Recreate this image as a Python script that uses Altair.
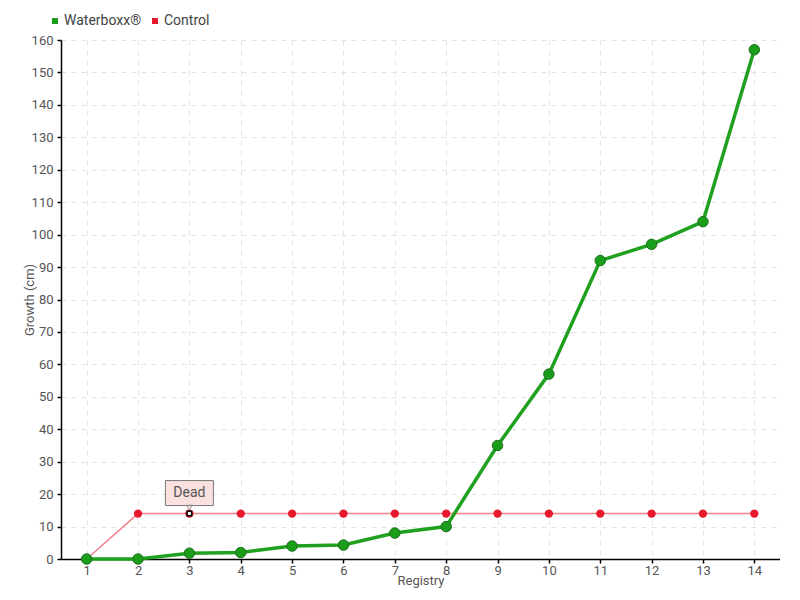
import altair as alt
import pandas as pd

registry = list(range(1, 15))
waterboxx = [0, 0, 1.8, 2, 4, 4.3, 8, 10, 35, 57, 92, 97, 104, 157]
control = [0, 14, 14, 14, 14, 14, 14, 14, 14, 14, 14, 14, 14, 14]
series_names = ["Waterboxx®", "Control"]
annot_x = [3]
annot_y = [14]
annot_text = ["Dead"]

rows = []
for r, w, c in zip(registry, waterboxx, control):
    rows.append({"Registry": r, "Growth": w, "Series": series_names[0]})
    rows.append({"Registry": r, "Growth": c, "Series": series_names[1]})
df = pd.DataFrame(rows)
wdf = df[df.Series == series_names[0]]
cdf = df[df.Series == series_names[1]]
adf = pd.DataFrame({"Registry": annot_x, "Growth": annot_y, "label": annot_text})

FONT = "Roboto, sans-serif"

x = alt.X("Registry:O", scale=alt.Scale(type="point", padding=0.5),
          axis=alt.Axis(title="Registry", labelAngle=0, titlePadding=-3, grid=True,
                        domain=True, ticks=True, labelPadding=1))
y = alt.Y("Growth:Q", scale=alt.Scale(domain=[0, 160], nice=False),
          axis=alt.Axis(title="Growth (cm)", values=list(range(0, 161, 10)),
                        titleX=-25, labelOverlap=False, domain=True, ticks=True, grid=True))

color_scale = alt.Scale(domain=series_names, range=["#1a9e1a", "#e8192c"])

ctrl_line = alt.Chart(cdf).mark_line(color="#f4828c", strokeWidth=1.5).encode(x=x, y=y)
ctrl_pts = alt.Chart(cdf).mark_circle(size=70, opacity=1).encode(
    x=x, y=y, color=alt.Color("Series:N", scale=color_scale,
                              legend=alt.Legend(title=None, orient="none", direction="horizontal",
                                                legendX=-13, legendY=-26, symbolType="square",
                                                symbolSize=36, labelFontSize=14, labelFont=FONT,
                                                labelColor="#444", columnPadding=6, labelOffset=2)))
w_line = alt.Chart(wdf).mark_line(color="#1fa01f", strokeWidth=3.5).encode(x=x, y=y)
w_pts = alt.Chart(wdf).mark_circle(size=110, opacity=1, stroke="#1e6e1e", strokeWidth=1).encode(
    x=x, y=y, color=alt.Color("Series:N", scale=color_scale))

box = alt.Chart(adf).mark_rect(fill="#fbe0e0", stroke="#777", strokeWidth=1,
                               xOffset=-24, x2Offset=24, yOffset=-33, y2Offset=-8).encode(
    x=x, x2="Registry:O", y=y, y2="Growth:Q")
ptr = alt.Chart(adf).mark_point(shape="triangle-down", filled=True, fill="#fbe0e0", stroke="#777",
                                strokeWidth=1, size=30, yOffset=-6).encode(x=x, y=y)
txt = alt.Chart(adf).mark_text(font=FONT, fontSize=14, color="#555", dy=-21).encode(
    x=x, y=y, text="label:N")
marker = alt.Chart(adf).mark_square(size=20, fill="white", stroke="black", strokeWidth=1.5,
                                    opacity=1).encode(x=x, y=y)

chart = alt.layer(ctrl_line, w_line, ctrl_pts, w_pts, box, ptr, txt, marker).properties(
    width=719, height=519,
    padding={"left": 53, "top": 32, "right": 0, "bottom": 40},
    autosize=alt.AutoSizeParams(type="none"),
).configure_view(stroke=None).configure_axis(
    labelFont=FONT, titleFont=FONT, labelFontSize=13, titleFontSize=13,
    labelColor="#555", titleColor="#555", titleFontWeight="normal",
    domainColor="black", domainWidth=1.5, tickColor="black", tickWidth=1.5,
    gridColor="#e3e3e3", gridDash=[5, 5], tickSize=4,
).configure_axisY(labelPadding=4)

chart.save("out.html", embed_options={"renderer": "svg", "actions": False})
